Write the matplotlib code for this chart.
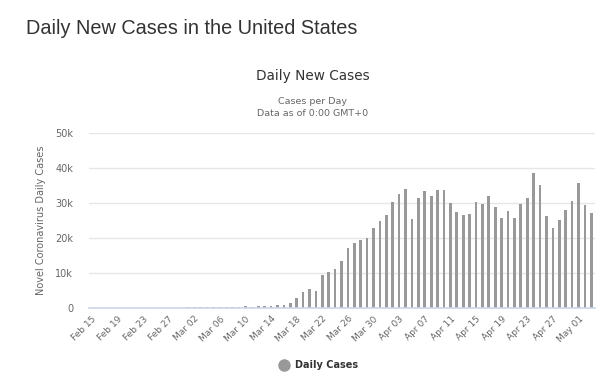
import matplotlib
matplotlib.use("Agg")
import matplotlib.pyplot as plt
import pandas as pd
from matplotlib.lines import Line2D
from matplotlib.ticker import FuncFormatter

# daily new cases, Feb 15 .. May 03 2020
dates = pd.date_range("2020-02-15", "2020-05-03", freq="D")
feb_cases = [0, 0, 0, 0, 0, 0, 0, 0, 0, 0, 0, 0, 0, 0, 0]
mar_cases = [6, 23, 20, 31, 68, 99, 115, 120, 180, 290, 280, 420,
             350, 550, 700, 700, 1400, 2850, 4450, 5400, 4750, 9200,
             10050, 11050, 13400, 17150, 18500, 19300, 19900, 22950, 24750]
apr_cases = [26650, 30200, 32500, 34100, 25500, 31300, 33400, 32000, 33600, 33600,
             29900, 27350, 26650, 26850, 30200, 29600, 32000, 28750, 25700, 27800,
             25700, 29600, 31500, 38650, 35050, 26200, 22950, 25050, 28100, 30500]
may_cases = [35600, 29400, 27150]
cases = feb_cases + mar_cases + apr_cases + may_cases

y_ticks = [0, 10000, 20000, 30000, 40000, 50000]

bar_color = "#999999"
grey_text = "#666666"

fig = plt.figure(figsize=(6, 3.78), dpi=100)
ax = fig.add_axes([88.5 / 600, 1 - 307.5 / 378, 506 / 600, 174.2 / 378])

x = range(len(cases))
ax.bar(x, cases, width=0.42, color=bar_color, zorder=3)

ax.set_xlim(-0.5, len(cases) - 0.5)
ax.set_ylim(0, 50000)
ax.set_yticks(y_ticks)
ax.yaxis.set_major_formatter(FuncFormatter(lambda v, p: "0" if v == 0 else f"{int(v / 1000)}k"))
ax.grid(axis="y", color="#e6e6e6", linewidth=1, zorder=0)

tick_pos = list(range(0, len(cases), 4))
ax.set_xticks(tick_pos)
ax.set_xticklabels([dates[i].strftime("%b %d") for i in tick_pos],
                   rotation=45, ha="right", rotation_mode="anchor")

for side in ["top", "right", "left"]:
    ax.spines[side].set_visible(False)
ax.spines["bottom"].set_color("#ccd6eb")
ax.spines["bottom"].set_linewidth(1.2)
ax.spines["bottom"].set_zorder(4)

ax.tick_params(axis="y", length=0, pad=11, labelsize=7, labelcolor=grey_text)
ax.tick_params(axis="x", length=0, pad=5, labelsize=6.5, labelcolor=grey_text)

ax.set_ylabel("Novel Coronavirus Daily Cases", fontsize=7, color=grey_text)
ax.yaxis.set_label_coords((46 - 88.5) / 506, 0.5)

fig.text(26 / 600, 1 - 28 / 378, "Daily New Cases in the United States",
         fontsize=14.3, color="#333333", family="Liberation Sans", va="center")
fig.text(313 / 600, 1 - 76 / 378, "Daily New Cases", fontsize=9.8, color="#333333",
         ha="center", va="center")
fig.text(313 / 600, 1 - 101 / 378, "Cases per Day", fontsize=6.8, color=grey_text,
         ha="center", va="center")
fig.text(313 / 600, 1 - 114 / 378, "Data as of 0:00 GMT+0", fontsize=6.8, color=grey_text,
         ha="center", va="center")

handle = Line2D([], [], marker="o", linestyle="", color=bar_color, markersize=8,
                label="Daily Cases")
fig.legend(handles=[handle], loc="center", bbox_to_anchor=(316 / 600, 1 - 365 / 378),
           frameon=False, handletextpad=0.1, prop={"weight": "bold", "size": 7},
           labelcolor="#333333")

fig.savefig("out.png", dpi=100)
